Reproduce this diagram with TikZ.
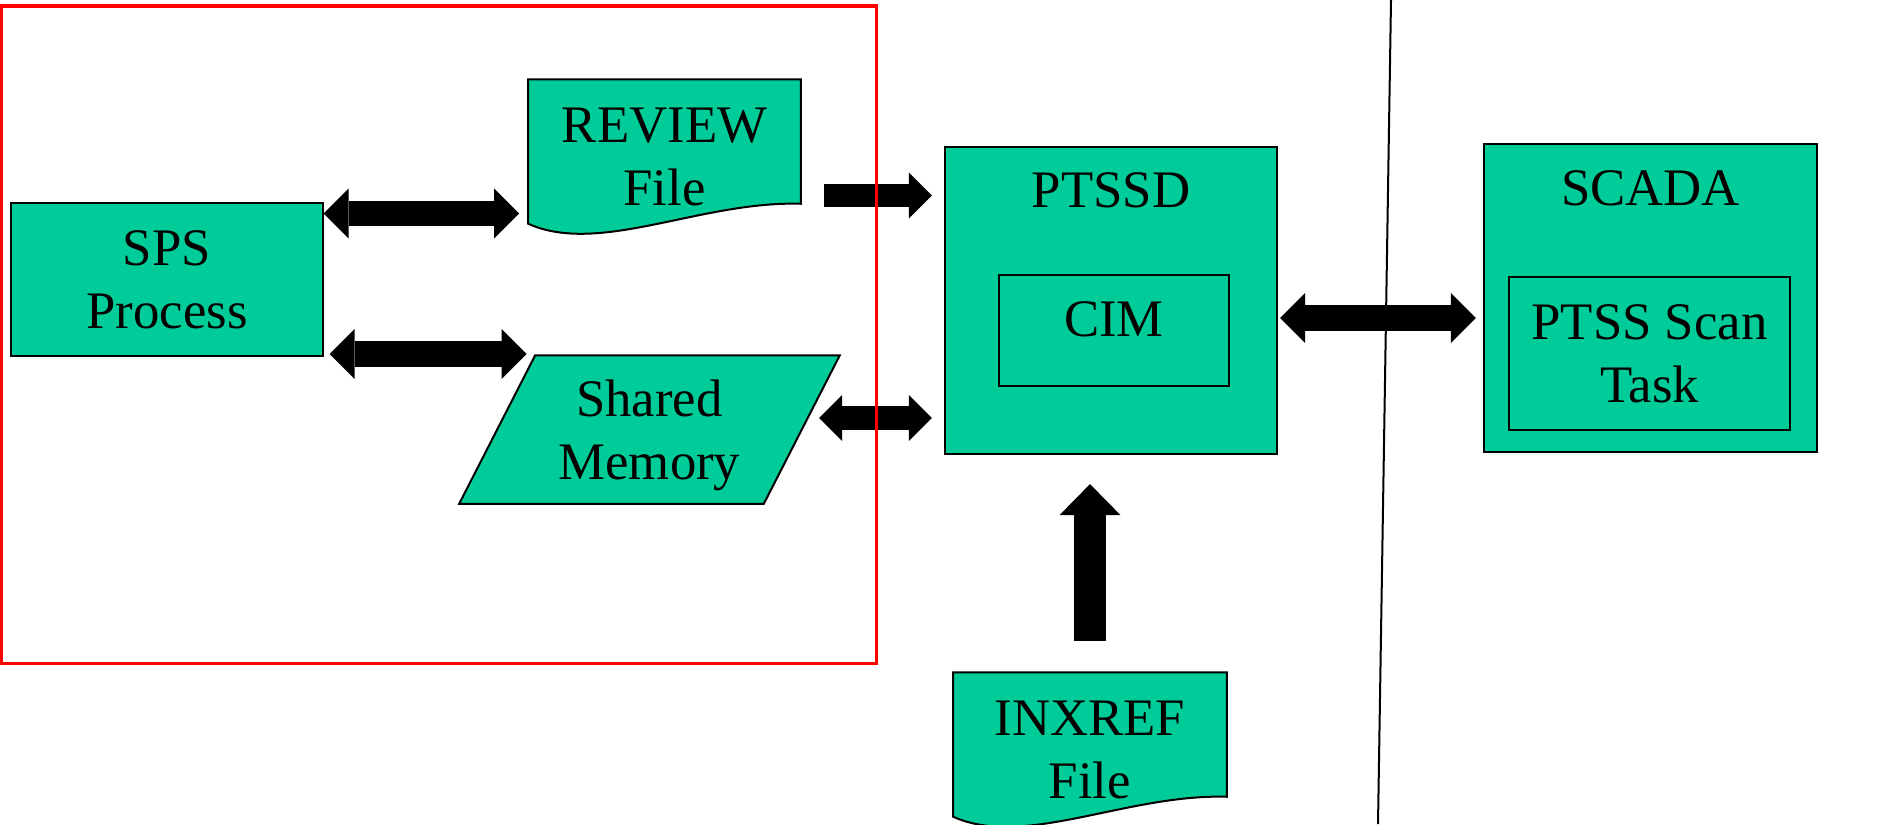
\documentclass[tikz,border=0pt]{standalone}
\usepackage{fontspec}
\setmainfont{Liberation Serif}
\usetikzlibrary{arrows.meta,calc,backgrounds}

\definecolor{boxgreen}{RGB}{0,204,153}

\tikzset{
  box/.style={draw,fill=boxgreen,line width=0.02cm,inner sep=0pt},
  inbox/.style={draw,line width=0.02cm,inner sep=0pt},
  plain/.style={inner sep=0pt,align=center},
  bigtip/.tip={Triangle[length=0.25cm,width=0.5cm,line width=0pt]},
  smalltip/.tip={Triangle[length=0.23cm,width=0.46cm,line width=0pt]},
  uptip/.tip={Triangle[length=0.31cm,width=0.61cm,line width=0pt]},
  twoway/.style={line width=0.25cm,arrows={bigtip-bigtip}},
  smalltwoway/.style={line width=0.23cm,arrows={smalltip-smalltip}},
  oneway/.style={line width=0.23cm,arrows={-smalltip}},
  upway/.style={line width=0.32cm,arrows={-uptip}}
}

\begin{document}
\begin{tikzpicture}[x=0.01cm,y=-0.01cm,every node/.style={font=\fontsize{15}{18}\selectfont}]
\useasboundingbox (0,0) rectangle (1903,824);

% left part
\node[box,plain,minimum width=3.11cm,minimum height=1.53cm] (sps) at (167,279.5) {SPS\\Process};
\node[plain,minimum width=2.71cm,minimum height=1.54cm] (review) at (664.5,157) {REVIEW\\File};
\node[plain,minimum width=3.79cm,minimum height=1.47cm,text depth=0pt] (shm) at (649.5,429.5) {Shared\\Memory};

% middle part
\node[box,minimum width=3.32cm,minimum height=3.07cm] (ptssd) at (1111,300.5) {};
\node[anchor=base] (ptssdname) at ([yshift=-0.62cm]ptssd.north) {PTSSD};
\node[inbox,minimum width=2.3cm,minimum height=1.11cm] (cim) at (1114,330.5) {};
\node[anchor=base] (cimname) at ([yshift=-0.62cm]cim.north) {CIM};
\node[plain,minimum width=2.72cm,minimum height=1.54cm] (inxref) at (1090,750) {INXREF\\File};

% right part
\node[box,minimum width=3.33cm,minimum height=3.08cm] (scada) at (1650.5,298) {};
\node[anchor=base] (scadaname) at ([yshift=-0.63cm]scada.north) {SCADA};
\node[inbox,plain,minimum width=2.81cm,minimum height=1.53cm] (scan) at (1649.5,353.5) {PTSS Scan\\Task};

\begin{scope}[on background layer]
\draw[box] (review.north west) -- (review.north east) -- ($(review.south east)+(0,-31)$)
  .. controls ($(review.south east)+(-100,-34)$) and ($(review.south west)+(71,21)$) .. ($(review.south west)+(0,-11)$) -- cycle;
\draw[box] (inxref.north west) -- (inxref.north east) -- ($(inxref.south east)+(0,-31)$)
  .. controls ($(inxref.south east)+(-100,-34)$) and ($(inxref.south west)+(71,21)$) .. ($(inxref.south west)+(0,-11)$) -- cycle;
\draw[box] ($(shm.north west)+(76,0)$) -- (shm.north east) -- ($(shm.south east)+(-76,0)$) -- (shm.south west) -- cycle;
\end{scope}

\coordinate (shmtop) at ($(shm.north west)+(76,0)$);
\coordinate (shmright) at (819,418);

\draw[line width=0.02cm] (1391,0) -- (1378,824);

% arrows
\draw[twoway,shorten >=0.09cm] (sps.east |- 0,213.5) -- (review.west |- 0,213.5);
\draw[twoway,shorten <=0.06cm,shorten >=0.085cm] (sps.east |- 0,354) -- (shmtop |- 0,354);
\draw[oneway,shorten <=0.23cm,shorten >=0.12cm] (review.east |- 0,195.5) -- (ptssd.west |- 0,195.5);
\draw[smalltwoway,shorten >=0.12cm] (shmright) -- (ptssd.west |- shmright);
\draw[twoway,shorten <=0.02cm,shorten >=0.07cm] (ptssd.east |- 0,318) -- (scada.west |- 0,318);
\draw[upway,shorten <=0.31cm,shorten >=0.29cm] (inxref.north) -- (inxref.north |- ptssd.south);

\draw[red,line width=0.03cm] (1.5,6) rectangle (876,663);
\end{tikzpicture}
\end{document}
